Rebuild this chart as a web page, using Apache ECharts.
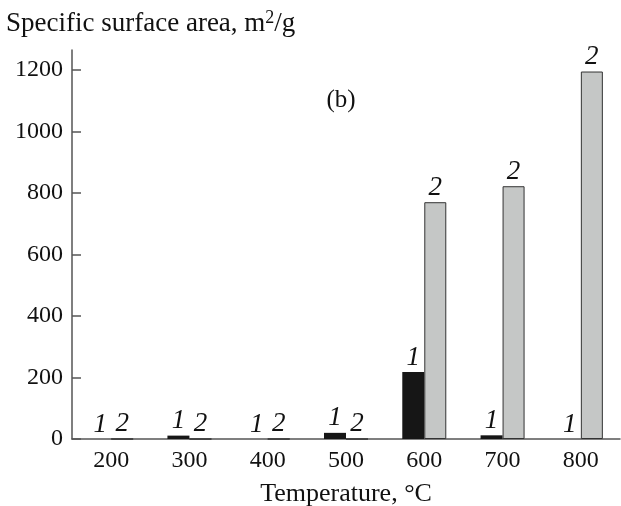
<!DOCTYPE html>
<html>
<head>
<meta charset="utf-8">
<script src="https://cdn.jsdelivr.net/npm/echarts@6/dist/echarts.min.js"></script>
<style>
  html, body { margin: 0; padding: 0; background: #fff; }
  #chart { width: 621px; height: 506px; }
</style>
</head>
<body>
<div id="chart"></div>
<script>
// temperatures and surface area per sample
var categories = ['200', '300', '400', '500', '600', '700', '800'];
var series1 = [0, 11, 0, 20, 218, 12, 0];
var series2 = [0, 0, 0, 0, 770, 822, 1195];
var yTicks = [0, 200, 400, 600, 800, 1000, 1200];

var font = 'Liberation Serif';
var chart = echarts.init(document.getElementById('chart'));

var labelStyle = {
    show: true,
    position: 'top',
    distance: 1,
    fontFamily: font,
    fontStyle: 'italic',
    fontSize: 27,
    color: '#111'
};

var option = {
    animation: false,
    grid: { left: 72, right: 1, top: 50, bottom: 67, outerBoundsMode: 'none', containLabel: false },
    xAxis: {
        type: 'category',
        data: categories,
        name: 'Temperature, °C',
        nameLocation: 'middle',
        nameGap: 42,
        nameTextStyle: { fontFamily: font, fontSize: 26, color: '#111' },
        axisLine: { lineStyle: { color: '#555', width: 1.5 } },
        axisTick: { inside: true, length: 8, lineStyle: { color: '#555', width: 1.5 } },
        axisLabel: { fontFamily: font, fontSize: 24, color: '#111', margin: 10 }
    },
    yAxis: {
        type: 'value',
        min: 0,
        max: 1265,
        splitLine: { show: false },
        axisLine: { show: true, lineStyle: { color: '#555', width: 1.5 } },
        axisTick: { show: true, inside: true, length: 9, customValues: yTicks, lineStyle: { color: '#555', width: 1.5 } },
        axisLabel: {
            fontFamily: font, fontSize: 24, color: '#111', margin: 9, customValues: yTicks,
            formatter: function (v) { return String(v); }
        }
    },
    series: [
        {
            type: 'bar',
            data: series1,
            barWidth: 22,
            barGap: '0%',
            itemStyle: { color: '#161616' },
            label: Object.assign({}, labelStyle, { formatter: '1' })
        },
        {
            type: 'bar',
            data: series2,
            barWidth: 22,
            itemStyle: { color: '#c5c7c6', borderColor: '#333', borderWidth: 1 },
            label: Object.assign({}, labelStyle, { formatter: '2' })
        }
    ],
    graphic: [
        {
            type: 'text',
            left: 6,
            top: 9,
            style: {
                text: 'Specific surface area, m{sup|2}/g',
                fontFamily: font,
                fontSize: 27,
                fill: '#111',
                rich: { sup: { fontFamily: font, fontSize: 18, verticalAlign: 'top', padding: [0, 0, 12, 0] } }
            }
        },
        {
            type: 'text',
            x: 341,
            y: 100,
            style: {
                text: '(b)',
                fontFamily: font,
                fontSize: 25,
                fill: '#111',
                align: 'center',
                verticalAlign: 'middle'
            }
        }
    ]
};

chart.setOption(option);
</script>
</body>
</html>
